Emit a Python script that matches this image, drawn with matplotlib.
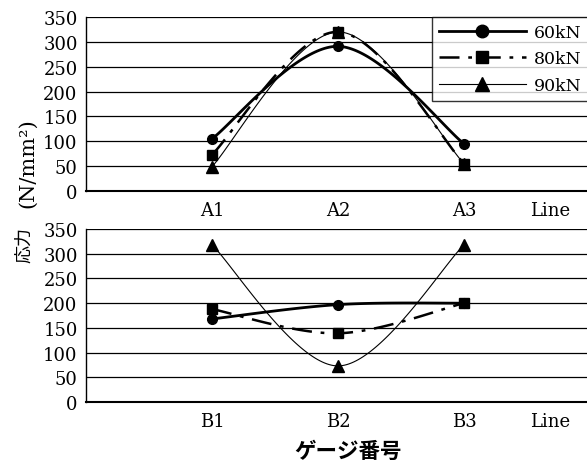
import numpy as np
import matplotlib
matplotlib.use("Agg")
import matplotlib.pyplot as plt
from matplotlib.lines import Line2D

# ---- data ----
top_labels = ["A1", "A2", "A3"]
bot_labels = ["B1", "B2", "B3"]
series_names = ["60kN", "80kN", "90kN"]
top_60 = [105, 291, 95]
top_80 = [73, 320, 55]
top_90 = [49, 320, 55]
bot_60 = [168, 197, 200]
bot_80 = [188, 139, 200]
bot_90 = [318, 73, 318]
y_ticks = [0, 50, 100, 150, 200, 250, 300, 350]
extra_label = "Line"

SERIF = ["DejaVu Serif", "Noto Sans CJK JP"]
plt.rcParams["font.family"] = SERIF


def smooth(xs, ys, n=60):
    """Catmull-Rom style smoothing (like spreadsheet smoothed lines)."""
    P = np.column_stack([xs, ys]).astype(float)
    out = []
    m = len(P)
    for i in range(m - 1):
        p0 = P[i - 1] if i > 0 else P[i]
        p1 = P[i]
        p2 = P[i + 1]
        p3 = P[i + 2] if i + 2 < m else P[i + 1]
        c1 = p1 + (p2 - p0) / 6.0
        c2 = p2 - (p3 - p1) / 6.0
        t = np.linspace(0, 1, n)[:, None]
        seg = ((1 - t) ** 3) * p1 + 3 * ((1 - t) ** 2) * t * c1 + 3 * (1 - t) * t ** 2 * c2 + t ** 3 * p2
        out.append(seg if i == 0 else seg[1:])
    S = np.vstack(out)
    return S[:, 0], S[:, 1]


styles = [
    dict(color="black", lw=2.0, ls="-", marker="o", ms=7),
    dict(color="black", lw=1.8, ls=(0, (8, 3.5, 1.5, 3.5)), marker="s", ms=7),
    dict(color="black", lw=0.8, ls="-", marker="^", ms=8),
]

fig = plt.figure(figsize=(5.87, 4.64), dpi=100)
W, H = 587.0, 464.0
left = 86 / W
width = 504 / W
ax1 = fig.add_axes([left, 1 - 192 / H, width, 174 / H])
ax2 = fig.add_axes([left, 1 - 403 / H, width, 173 / H])

xpos = [1, 2, 3]
for ax, labels, data in [
    (ax1, top_labels, [top_60, top_80, top_90]),
    (ax2, bot_labels, [bot_60, bot_80, bot_90]),
]:
    for vals, st in zip(data, styles):
        sx, sy = smooth(xpos, vals)
        ax.plot(sx, sy, color=st["color"], lw=st["lw"], ls=st["ls"], zorder=3)
    for k, (vals, st) in enumerate(zip(data, styles)):
        z = {0: 4, 1: 6, 2: 5}[k]
        ax.plot(xpos, vals, ls="none", marker=st["marker"], ms=st["ms"],
                color="black", zorder=z)
    ax.set_xlim(0, 4)
    ax.set_ylim(0, 350)
    ax.set_yticks(y_ticks)
    ax.set_xticks(xpos + [3.68])
    ax.set_xticklabels(labels + [extra_label])
    for yt in y_ticks[1:]:
        ax.axhline(yt, color="black", lw=0.9, zorder=1)
    ax.tick_params(axis="both", length=0, labelsize=13)
    ax.tick_params(axis="y", pad=6)
    ax.spines["right"].set_visible(False)
    ax.spines["top"].set_visible(False)
    ax.spines["left"].set_linewidth(1.0)
    ax.spines["bottom"].set_linewidth(1.5)

ax1.tick_params(axis="x", pad=7)
ax2.tick_params(axis="x", pad=7)

handles = [
    Line2D([], [], color="black", lw=st["lw"], ls=st["ls"], marker=st["marker"],
           ms=st["ms"] + 2)
    for st in styles
]
leg = fig.legend(handles, series_names, loc="upper left",
                 bbox_to_anchor=(432 / W, 1 - 18 / H), borderaxespad=0,
                 frameon=True, fancybox=False, edgecolor="black",
                 fontsize=12.5, handlelength=5.0, numpoints=1,
                 labelspacing=0.55, borderpad=0.4, handletextpad=0.45)
leg.get_frame().set_linewidth(1.0)

fig.text(24 / W, 1 - 245 / H, "応力", rotation=90, ha="center",
         va="center", fontsize=13, family=["Noto Sans CJK JP", "DejaVu Sans"])
fig.text(28 / W, 1 - 163 / H, "(N/mm²)", rotation=90, ha="center",
         va="center", fontsize=15, family=SERIF)
fig.text(348 / W, 1 - 451 / H, "ゲージ番号", ha="center", va="center",
         fontsize=15.5, fontweight="bold",
         family=["Noto Sans CJK JP", "DejaVu Sans"])

fig.savefig("out.png", dpi=100)
